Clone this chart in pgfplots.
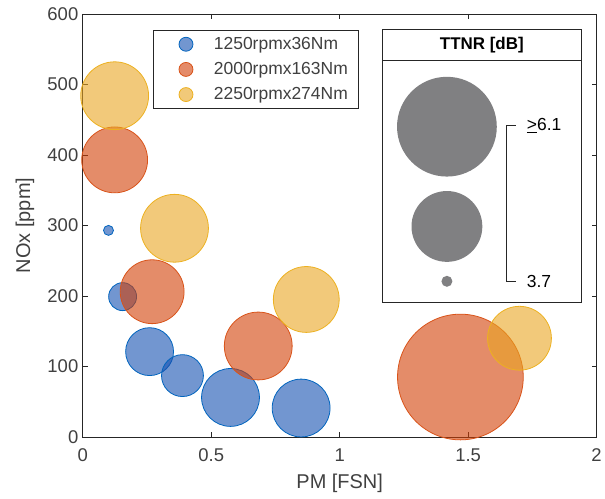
\documentclass[border=0pt]{standalone}
\usepackage{pgfplots}
\pgfplotsset{compat=1.18}
\usepackage{pgfplotstable}
\usepackage{fontspec}
\setmainfont{Liberation Sans}

\definecolor{txt}{RGB}{64,64,64}
\definecolor{axl}{RGB}{38,38,38}
\definecolor{bluefill}{RGB}{20,80,177}
\definecolor{blueedge}{RGB}{0,100,190}
\definecolor{redfill}{RGB}{210,63,5}
\definecolor{rededge}{RGB}{217,83,25}
\definecolor{yelfill}{RGB}{233,165,33}
\definecolor{yeledge}{RGB}{237,177,32}
\definecolor{bubgray}{RGB}{128,128,130}

% x = PM [FSN], y = NOx [ppm], r = bubble radius (pt)
\pgfplotstableread{
x     y    r
0.10  293  5
0.155 199  14
0.26  121  24
0.388 87   21
0.575 56   29
0.85  41   29
}\lowload
\pgfplotstableread{
x     y    r
0.124 393  33
0.27  206  32
0.683 129  34
1.47  85   63
}\midload
\pgfplotstableread{
x     y    r
0.124 484  34
0.357 296  34
0.87  195  33
1.70  140  32
}\highload

\begin{document}
\begin{tikzpicture}
\begin{axis}[
    name=ax,
    scale only axis,
    width=515pt, height=424pt,
    xmin=0, xmax=2, ymin=0, ymax=600,
    xtick={0,0.5,1,1.5,2},
    ytick={0,100,...,600},
    tick align=inside, tick pos=both,
    major tick length=5pt,
    axis line style={axl, line width=0.8pt},
    every tick/.style={axl, line width=0.8pt},
    /pgf/number format/assume math mode=true,
    ticklabel style={font=\fontsize{18.5}{20}\selectfont, text=txt},
    xticklabel style={yshift=-8pt},
    yticklabel style={xshift=-1pt},
    xlabel={PM [FSN]}, ylabel={NOx [ppm]},
    label style={font=\fontsize{20}{22}\selectfont, text=txt},
    xlabel style={at={(rel axis cs:0.5,-0.1108)}, anchor=center},
    ylabel style={at={(rel axis cs:-0.1126,0.5)}, anchor=center},
    legend style={at={(rel axis cs:0.136,0.962)}, anchor=north west,
        draw=axl, line width=0.8pt, font=\fontsize{17.5}{19}\selectfont,
        text=txt, inner xsep=9pt, inner ysep=5pt, row sep=7.5pt},
    legend cell align=left,
]
\addplot[scatter, only marks, mark=*, fill opacity=0.6, line width=0.8pt,
    scatter/use mapped color={draw=blueedge, fill=bluefill},
    visualization depends on={\thisrow{r}\as\rad},
    scatter/@pre marker code/.append style={/tikz/mark size=\rad},
    legend image code/.code={\path[draw=none, fill=none] (0pt,-1pt) rectangle (50pt,1pt);
      \draw[draw=blueedge, fill=bluefill, fill opacity=0.6, line width=0.8pt] (24pt,0pt) circle (7pt);}]
    table[x=x, y=y] {\lowload};
\addlegendentry{1250rpmx36Nm}
\addplot[scatter, only marks, mark=*, fill opacity=0.6, line width=0.8pt,
    scatter/use mapped color={draw=rededge, fill=redfill},
    visualization depends on={\thisrow{r}\as\rad},
    scatter/@pre marker code/.append style={/tikz/mark size=\rad},
    legend image code/.code={\path[draw=none, fill=none] (0pt,-1pt) rectangle (50pt,1pt);
      \draw[draw=rededge, fill=redfill, fill opacity=0.6, line width=0.8pt] (24pt,0pt) circle (7pt);}]
    table[x=x, y=y] {\midload};
\addlegendentry{2000rpmx163Nm}
\addplot[scatter, only marks, mark=*, fill opacity=0.6, line width=0.8pt,
    scatter/use mapped color={draw=yeledge, fill=yelfill},
    visualization depends on={\thisrow{r}\as\rad},
    scatter/@pre marker code/.append style={/tikz/mark size=\rad},
    legend image code/.code={\path[draw=none, fill=none] (0pt,-1pt) rectangle (50pt,1pt);
      \draw[draw=yeledge, fill=yelfill, fill opacity=0.6, line width=0.8pt] (24pt,0pt) circle (7pt);}]
    table[x=x, y=y] {\highload};
\addlegendentry{2250rpmx274Nm}
\end{axis}
% bubble size legend, in pt from the axis corner
\begin{scope}[shift={(ax.south west)}, x=1pt, y=1pt]
  \draw[axl, line width=0.8pt, fill=white] (300,135) rectangle (500,409);
  \draw[axl, line width=0.8pt] (300,377) -- (500,377);
  \node[text=black, font=\fontsize{17}{19}\selectfont\bfseries] at (400,393) {TTNR [dB]};
  \fill[bubgray] (365,311) circle (50);
  \fill[bubgray] (365,211) circle (35.5);
  \fill[bubgray] (365,156) circle (5.5);
  \draw[axl, line width=0.7pt] (434,312) -- (425,312) -- (425,156) -- (434,156);
  \node[anchor=west, text=black, font=\fontsize{17.5}{19}\selectfont, inner sep=0pt] at (445,312) {\underline{>}6.1};
  \node[anchor=west, text=black, font=\fontsize{17.5}{19}\selectfont, inner sep=0pt] at (445,156) {3.7};
  \path (-83,-62) rectangle (522,438);
\end{scope}
\end{tikzpicture}
\end{document}
